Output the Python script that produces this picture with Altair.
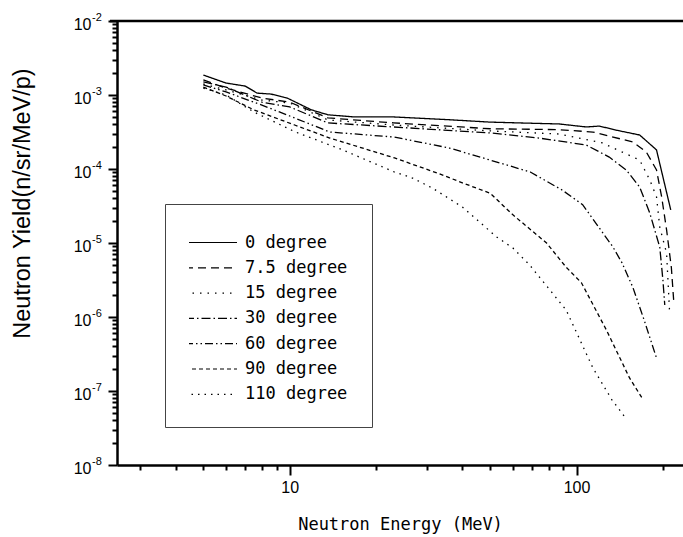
import altair as alt
import pandas as pd

angles = ["0 degree", "7.5 degree", "15 degree", "30 degree",
          "60 degree", "90 degree", "110 degree"]

e_0 = [5, 6, 7, 7.7, 8.6, 9.8, 11.9, 13.6, 16.8, 23, 35, 50, 70, 87, 108, 120, 140, 166, 190, 213]
y_0 = [1.86e-3, 1.45e-3, 1.32e-3, 1.06e-3, 1.03e-3, 9.1e-4, 6.3e-4, 5.4e-4, 5.05e-4, 5.05e-4,
       4.66e-4, 4.3e-4, 4.15e-4, 4.06e-4, 3.7e-4, 3.8e-4, 3.3e-4, 2.88e-4, 1.81e-4, 2.8e-5]

e_75 = [5, 6, 8, 10, 13.6, 23, 50, 87, 114, 157, 175, 190, 198, 206, 214, 218]
y_75 = [1.6e-3, 1.24e-3, 9.1e-4, 8.0e-4, 4.9e-4, 4.2e-4, 3.5e-4, 3.4e-4, 3.16e-4, 2.32e-4,
        1.7e-4, 9.7e-5, 4.2e-5, 1.5e-5, 4.7e-6, 1.7e-6]

e_15 = [5, 6, 8, 10, 13.6, 23, 50, 87, 123, 166, 180, 190, 195, 206, 211]
y_15 = [1.41e-3, 1.17e-3, 8.55e-4, 7.8e-4, 4.6e-4, 3.93e-4, 3.27e-4, 2.97e-4, 2.25e-4, 1.32e-4,
        7.1e-5, 4.2e-5, 1.64e-5, 7.3e-6, 1.17e-6]

e_30 = [5, 6, 8, 10, 13.6, 23, 50, 74, 108, 130, 149, 166, 180, 195, 200, 203]
y_30 = [1.5e-3, 1.28e-3, 8.0e-4, 6.9e-4, 4.19e-4, 3.7e-4, 3.07e-4, 2.62e-4, 2.11e-4, 1.45e-4,
        9.7e-5, 5.7e-5, 2.54e-5, 8.8e-6, 3.16e-6, 1.45e-6]

e_60 = [5, 6, 8, 10, 13.8, 23.2, 36, 50, 69, 89, 105, 134, 144, 157, 172, 190]
y_60 = [1.37e-3, 1.1e-3, 7.3e-4, 5.2e-4, 3.16e-4, 2.7e-4, 1.92e-4, 1.32e-4, 9.1e-5, 5.2e-5,
        3.3e-5, 8.8e-6, 5.4e-6, 2.54e-6, 9.1e-7, 2.79e-7]

e_90 = [5, 6, 7.5, 10.4, 13.8, 23.2, 33.3, 40, 50, 60, 78.6, 92, 104, 127, 153, 170]
y_90 = [1.28e-3, 9.7e-4, 6.3e-4, 3.93e-4, 2.62e-4, 1.41e-4, 8.6e-5, 6.5e-5, 4.7e-5, 2.4e-5,
        1.0e-5, 4.7e-6, 2.9e-6, 6.7e-7, 1.5e-7, 7.8e-8]

e_110 = [5, 6, 7.5, 10.4, 15.3, 23.2, 26.8, 31.5, 40, 52.6, 60, 68.6, 92, 114, 133, 150]
y_110 = [1.24e-3, 1.0e-3, 5.9e-4, 3.2e-4, 1.81e-4, 9.1e-5, 7.55e-5, 5.5e-5, 3.06e-5, 1.21e-5,
         8.55e-6, 5.05e-6, 1.24e-6, 2.05e-7, 7.55e-8, 4.06e-8]

x_ticks = [3, 4, 5, 6, 7, 8, 9, 10, 20, 30, 40, 50, 60, 70, 80, 90, 100, 200]
y_decades = [1e-8, 1e-7, 1e-6, 1e-5, 1e-4, 1e-3, 1e-2]
y_exponents = ["-8", "-7", "-6", "-5", "-4", "-3", "-2"]
y_ticks = [k * d for d in y_decades[:-1] for k in range(1, 10)] + [1e-2]

dash_styles = [[1, 0], [8, 5], [1.5, 6], [9, 3, 1.5, 3], [8, 3, 1.5, 3, 1.5, 3], [4, 3], [1.5, 5]]

series = [e_0, e_75, e_15, e_30, e_60, e_90, e_110]
values = [y_0, y_75, y_15, y_30, y_60, y_90, y_110]
rows = []
for name, es, ys in zip(angles, series, values):
    for i, (e, y) in enumerate(zip(es, ys)):
        rows.append({"angle": name, "E": e, "Y": y, "i": i})
df = pd.DataFrame(rows)
exp_df = pd.DataFrame({"Y": y_decades, "exp": y_exponents})

W, H = 566, 444

decade = "abs(log(datum.value)/LN10 - round(log(datum.value)/LN10)) < 0.001"

yscale = alt.Scale(type="log", domain=[1e-8, 1e-2], nice=False)
yaxis = alt.Axis(values=y_ticks,
                 labelExpr=f"{decade} ? '10' : ''",
                 tickSize={"condition": {"test": decade, "value": 9}, "value": 5},
                 labelPadding=17, labelOffset=3, labelFlush=False, labelOverlap=False,
                 title="Neutron Yield(n/sr/MeV/p)", titleFont="Liberation Sans",
                 titleFontSize=23.5, titleFontWeight="normal",
                 titleX=-95, titleY=182, titleAngle=-90,
                 titleAlign="center", titleBaseline="middle")

lines = alt.Chart(df).mark_line(color="black", strokeWidth=1.3).encode(
    x=alt.X("E:Q", scale=alt.Scale(type="log", domain=[2.5, 235], nice=False),
            axis=alt.Axis(values=x_ticks,
                          labelExpr="datum.value == 10 ? '10' : datum.value == 100 ? '100' : ''",
                          tickSize={"condition": {"test": "datum.value == 10 || datum.value == 100", "value": 10}, "value": 5},
                          labelPadding=4, labelFlush=False, labelOverlap=False,
                          title="Neutron Energy (MeV)", titleFont="DejaVu Sans Mono",
                          titleFontSize=17, titleFontWeight="normal",
                          titleY=59, titleBaseline="middle")),
    y=alt.Y("Y:Q", scale=yscale, axis=yaxis),
    strokeDash=alt.StrokeDash("angle:N", scale=alt.Scale(domain=angles, range=dash_styles),
                              legend=alt.Legend(title=" ", titleFontSize=6, titlePadding=0,
                                                orient="none", legendX=48, legendY=183,
                                                symbolType="stroke", symbolSize=2704,
                                                symbolStrokeWidth=1.2, symbolStrokeColor="black",
                                                symbolOffset=-5,
                                                labelFont="DejaVu Sans Mono", labelFontSize=17,
                                                labelColor="black", labelOffset=7,
                                                padding=24, rowPadding=7.3, clipHeight=17,
                                                strokeColor="#444", labelLimit=400)),
    order="i:Q",
)

exps = alt.Chart(exp_df).mark_text(align="left", baseline="middle", fontSize=11,
                                   font="Liberation Sans", color="black", dy=-3).encode(
    y=alt.Y("Y:Q", scale=yscale, axis=yaxis),
    x=alt.value(-25),
    text="exp:N",
)

top = alt.Chart(pd.DataFrame({"a": [0]})).mark_rule(color="black", strokeWidth=2.5).encode(
    x=alt.value(-7), x2=alt.value(W), y=alt.value(0))

chart = alt.layer(lines, exps, top).properties(
    width=W, height=H,
    autosize=alt.AutoSizeParams(type="none"),
    padding={"left": 117, "top": 21, "right": 0, "bottom": 72},
    background="white",
).configure_view(stroke=None).configure_axis(
    grid=False, domainColor="black", domainWidth=2.5, tickColor="black", tickWidth=2,
    labelColor="black", labelFont="Liberation Sans", labelFontSize=16, titleColor="black")

chart.save("out.html", embed_options={"renderer": "svg", "actions": False})
